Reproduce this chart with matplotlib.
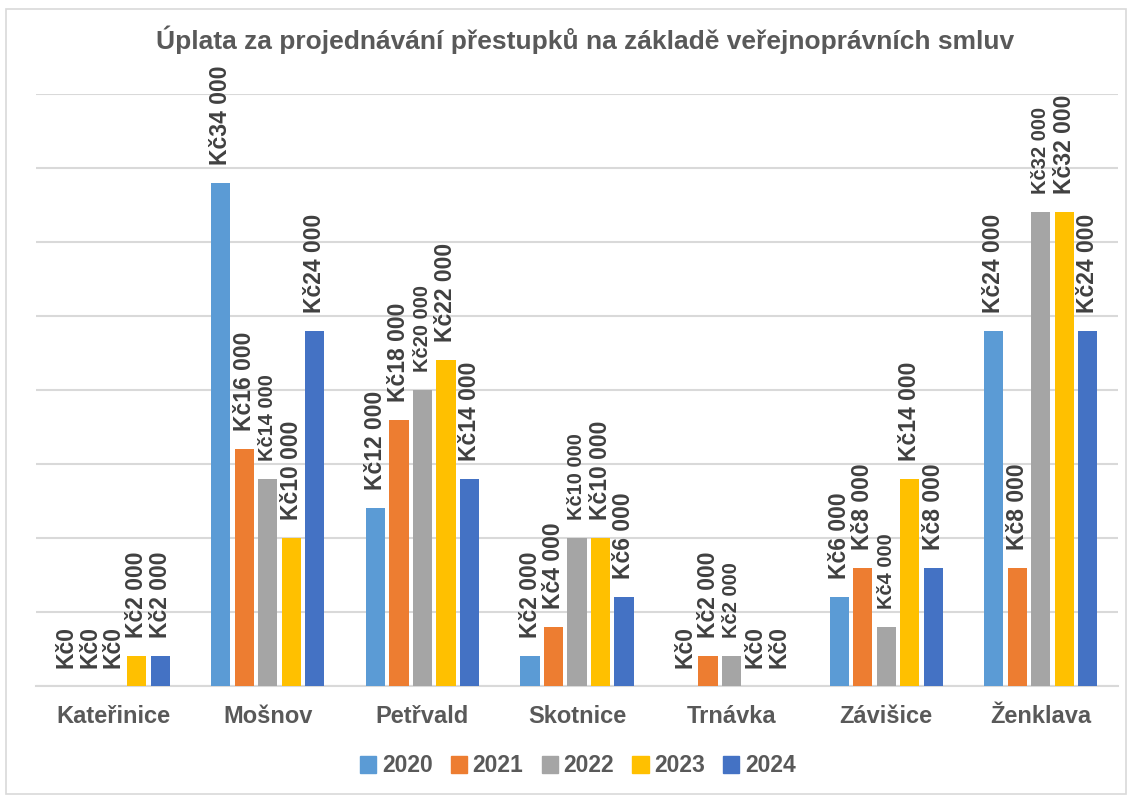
import matplotlib.pyplot as plt
import numpy as np
from matplotlib.patches import Rectangle

plt.rcParams['font.family'] = ['Liberation Sans', 'DejaVu Sans']

obce = ['Kateřinice', 'Mošnov', 'Petřvald', 'Skotnice', 'Trnávka', 'Závišice', 'Ženklava']
roky = ['2020', '2021', '2022', '2023', '2024']
v2020 = [0, 34000, 12000, 2000, 0, 6000, 24000]
v2021 = [0, 16000, 18000, 4000, 2000, 8000, 8000]
v2022 = [0, 14000, 20000, 10000, 2000, 4000, 32000]
v2023 = [2000, 10000, 22000, 10000, 0, 14000, 32000]
v2024 = [2000, 24000, 14000, 6000, 0, 8000, 24000]
barvy = ['#5B9BD5', '#ED7D31', '#A5A5A5', '#FFC000', '#4472C4']

serie = [v2020, v2021, v2022, v2023, v2024]

def fmt(v):
    return 'Kč' + f'{v:,}'.replace(',', ' ')

fig = plt.figure(figsize=(11.31, 7.96), dpi=100)
ax = fig.add_axes([36 / 1131, 110 / 796, 1082 / 1131, 592 / 796])

x = np.arange(len(obce))
pitch = 0.152
width = 0.124
for i, (vals, c) in enumerate(zip(serie, barvy)):
    pos = x + (i - 2) * pitch
    ax.bar(pos, vals, width=width, color=c, zorder=3)
    for p, v in zip(pos, vals):
        # sede nenulove popisky jsou v originale mensi
        fs = 14.5 if (i == 2 and v > 0) else 16.5
        ax.annotate(fmt(v), (p, v), xytext=(0, 13), textcoords='offset points',
                    rotation=90, ha='center', va='bottom', fontsize=fs,
                    fontweight='bold', color='#404040')

ax.set_xlim(-0.5, 6.5)
ax.set_ylim(0, 40000)
ax.set_yticks(np.arange(0, 40001, 5000))
ax.yaxis.grid(True, color='#D9D9D9', linewidth=1.5, zorder=0)
ax.tick_params(axis='y', left=False, labelleft=False)
ax.tick_params(axis='x', length=0, pad=14)
ax.set_xticks(x)
ax.set_xticklabels(obce, fontsize=17, fontweight='bold', color='#595959')
for s in ['top', 'right', 'left']:
    ax.spines[s].set_visible(False)
ax.spines['bottom'].set_color('#D9D9D9')
ax.spines['bottom'].set_linewidth(1.5)

fig.text(585 / 1131, 1 - 40 / 796,
         'Úplata za projednávání přestupků na základě veřejnoprávních smluv',
         ha='center', va='center', fontsize=19, fontweight='bold', color='#595959')

handles = [Rectangle((0, 0), 1, 1, color=c) for c in barvy]
leg = fig.legend(handles, roky, loc='center', bbox_to_anchor=(578 / 1131, 1 - 766 / 796),
                 ncol=5, frameon=False, handlelength=0.7, handleheight=0.7,
                 handletextpad=0.25, columnspacing=0.8,
                 prop={'size': 16.5, 'weight': 'bold'})
for t in leg.get_texts():
    t.set_color('#595959')

fig.patches.append(Rectangle((6 / 1131, 0.002), 1120 / 1131, 1 - 9 / 796 - 0.002,
                             transform=fig.transFigure, fill=False,
                             edgecolor='#D9D9D9', linewidth=1.2))

fig.savefig('out.png', dpi=100)
